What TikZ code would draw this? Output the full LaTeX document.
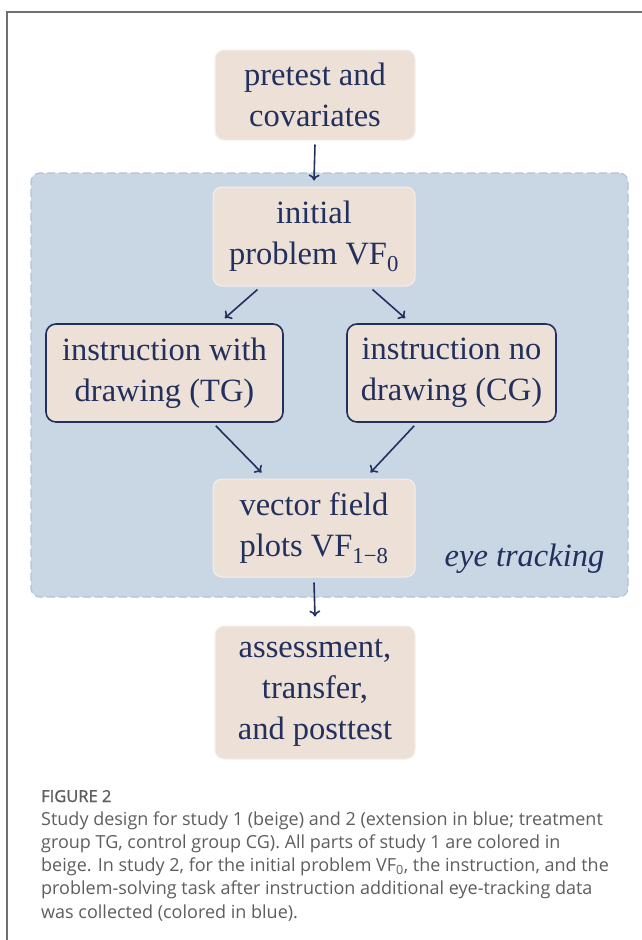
\documentclass[tikz,border=0pt]{standalone}
\usepackage{fontspec}
\setmainfont{Liberation Serif}
\newfontfamily\capfont{Open Sans}
\newfontfamily\figfont[FakeBold=1.3]{Open Sans}
\usetikzlibrary{arrows.meta}
\definecolor{beige}{HTML}{EDE0D7}
\definecolor{beigeline}{HTML}{F6EFEA}
\definecolor{bluebg}{HTML}{C9D6E4}
\definecolor{blueline}{HTML}{B2C3D8}
\definecolor{navy}{HTML}{22305E}
\definecolor{capgrey}{HTML}{5E5E5E}
\definecolor{framegrey}{HTML}{707070}
\tikzset{
  boxfont/.style={font=\fontsize{32.5}{41}\selectfont, text=navy, align=center},
  beigebox/.style={boxfont, fill=beige, draw=beigeline, line width=1pt, rounded corners=9pt, inner sep=0pt},
  instrbox/.style={boxfont, fill=beige, draw=navy, line width=1.6pt, rounded corners=10pt, inner sep=0pt},
  flow/.style={draw=navy, line width=1.6pt, -{To[length=6pt,width=11pt]}},
  capline/.style={anchor=base west, inner sep=0pt, text=capgrey, font=\capfont\fontsize{18}{22}\selectfont},
}
\begin{document}
\begin{tikzpicture}[x=1pt,y=-1pt]
\useasboundingbox (0,0) rectangle (642,940);
\fill[white] (0,0) rectangle (642,940);
% frame
\draw[framegrey, line width=1.4pt] (7,940) -- (7,12) -- (642,12);
% blue region
\node[fill=bluebg, draw=blueline, line width=1.3pt, dash pattern=on 8pt off 4pt, rounded corners=9pt,
  minimum width=597pt, minimum height=424pt, inner sep=0pt] (region) at (329.5,385) {};
% boxes
\node[beigebox, minimum width=200pt, minimum height=90pt] (pre) at (315,95) {pretest and\\covariates};
\node[beigebox, minimum width=202pt, minimum height=99pt] (init) at (314,236.5) {initial\\problem VF\textsubscript{0}};
\node[instrbox, minimum width=237pt, minimum height=98pt] (tg) at (164.5,373) {instruction with\\drawing (TG)};
\node[instrbox, minimum width=209pt, minimum height=98pt] (cg) at (451.5,373) {instruction no\\drawing (CG)};
\node[beigebox, minimum width=202pt, minimum height=98pt] (vf) at (314,528) {vector field\\plots VF\textsubscript{1\char"2212 8}};
\node[beigebox, minimum width=200pt, minimum height=133pt] (as) at (315,692.5) {assessment,\\transfer,\\and posttest};
\node[boxfont, font=\fontsize{32.5}{41}\selectfont\itshape, anchor=base, inner sep=0pt] (eye) at (524.5,566) {eye tracking};
% connectors
\draw[flow] ([yshift=-4pt]pre.south) -- ([yshift=6pt]init.north);
\draw[flow] ([xshift=45pt,yshift=-3pt]init.south west) -- ([xshift=-59pt,yshift=5pt]tg.north east);
\draw[flow] ([xshift=-43pt,yshift=-3pt]init.south east) -- ([xshift=59pt,yshift=5pt]cg.north west);
\draw[flow] ([xshift=-68pt,yshift=-3pt]tg.south east) -- ([xshift=49pt,yshift=6pt]vf.north west);
\draw[flow] ([xshift=68pt,yshift=-3pt]cg.south west) -- ([xshift=-45pt,yshift=6pt]vf.north east);
\draw[flow] ([yshift=-5pt]vf.south) -- ([yshift=9pt]as.north);
% caption
\node[capline, font=\figfont\fontsize{16.5}{20}\selectfont] (fig) at (41,802) {FIGURE 2};
\node[capline] (c1) at (41,825) {Study design for study 1 (beige) and 2 (extension in blue; treatment};
\node[capline] (c2) at (41,848.3) {group TG, control group CG). All parts of study 1 are colored in};
\node[capline] (c3) at (41,871.6) {beige. In study 2, for the initial problem VF\textsubscript{0}, the instruction, and the};
\node[capline] (c4) at (41,894.9) {problem-solving task after instruction additional eye-tracking data};
\node[capline] (c5) at (41,918.2) {was collected (colored in blue).};
\end{tikzpicture}
\end{document}
